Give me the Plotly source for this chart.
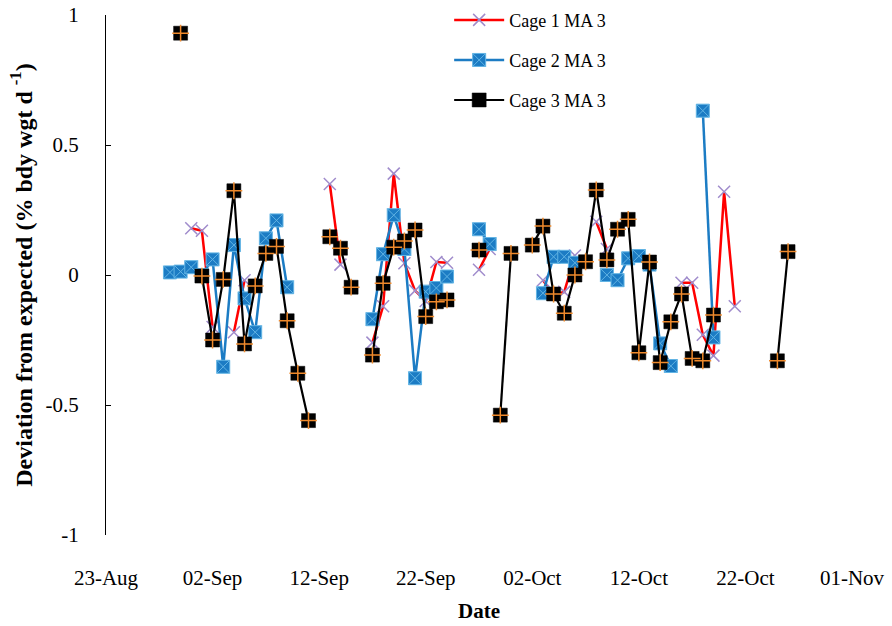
import plotly.graph_objects as go
import pandas as pd

# ---- data ----
dates = pd.date_range("2009-08-29", "2009-10-26", freq="D").strftime("%Y-%m-%d").tolist()

N = None
cage1 = [N, N, 0.18, 0.17, -0.20, N, -0.22, -0.02, N, N, N, N, N, N, N, 0.35, 0.04, N, N,
         -0.26, -0.12, 0.39, 0.045, -0.06, -0.10, 0.05, 0.047, N, N, 0.02, 0.10, N, N,
         N, N, -0.02, -0.075, -0.065, 0.075, N, 0.205, 0.10, N, N, N, N, N, N,
         -0.03, -0.03, -0.23, -0.31, 0.32, -0.12, N, N, N, N, N]
cage2 = [0.01, 0.013, 0.03, 0.0, 0.06, -0.353, 0.115, -0.09, -0.22, 0.141, 0.21, -0.047, N, N, N, N, N, N, N,
         -0.17, 0.08, 0.23, 0.10, -0.397, -0.064, -0.05, -0.006, N, N, 0.176, 0.119, N, N,
         N, N, -0.07, 0.07, 0.07, 0.047, N, N, 0.0, -0.02, 0.064, 0.073, 0.04, -0.263, -0.35,
         N, N, 0.632, -0.24, N, N, N, N, N, N, N]
cage3 = [N, 0.93, N, -0.004, -0.25, -0.017, 0.324, -0.265, -0.042, 0.083, 0.11, -0.176, -0.378, -0.56, N, 0.147, 0.103, -0.047, N,
         -0.308, -0.032, 0.107, 0.131, 0.173, -0.16, -0.103, -0.096, N, N, 0.096, N, -0.539, 0.083,
         N, 0.115, 0.188, -0.073, -0.147, 0.0, 0.051, 0.327, 0.058, 0.176, 0.214, -0.299, 0.05, -0.337, -0.18,
         -0.073, -0.321, -0.33, -0.154, N, N, N, N, N, -0.33, 0.09]

names = ["Cage 1 MA 3", "Cage 2 MA 3", "Cage 3 MA 3"]
y_ticks = [-1, -0.5, 0, 0.5, 1]
y_ticklabels = ["-1", "-0.5", "0", "0.5", "1"]

FONT = "Liberation Serif"

fig = go.Figure()
fig.add_trace(go.Scatter(
    x=dates, y=cage1, name=names[0], mode="lines+markers", connectgaps=False,
    line=dict(color="#ff0000", width=2.5),
    marker=dict(symbol="x-thin", size=12, line=dict(color="#a08ccc", width=1.5)),
    legend="legend"))
fig.add_trace(go.Scatter(
    x=dates, y=cage2, name=names[1], mode="lines+markers", connectgaps=False,
    line=dict(color="#1c7cc4", width=2.5),
    marker=dict(symbol="square-x", size=13, color="#1c7cc4", line=dict(color="#62b4e4", width=1)),
    legend="legend2"))
fig.add_trace(go.Scatter(
    x=dates, y=cage3, name=names[2], mode="lines+markers", connectgaps=False,
    line=dict(color="#000000", width=2.2),
    marker=dict(symbol="square", size=14, color="#000000", line=dict(color="#000000", width=0.5)),
    legend="legend3"))
fig.add_trace(go.Scatter(
    x=dates, y=cage3, name=names[2], mode="markers", showlegend=False, hoverinfo="skip",
    marker=dict(symbol="cross-thin", size=12, line=dict(color="#f08a2c", width=1.5))))

leg_common = dict(xanchor="left", yanchor="middle", bgcolor="rgba(0,0,0,0)",
                  font=dict(family=FONT, size=18, color="#000"), itemwidth=50)
fig.update_layout(
    width=892, height=626,
    margin=dict(l=106, r=40, t=15, b=91, autoexpand=False),
    paper_bgcolor="white", plot_bgcolor="white",
    font=dict(family=FONT, color="#000"),
    legend=dict(x=0.46, y=0.99, **leg_common),
    legend2=dict(x=0.46, y=0.913, **leg_common),
    legend3=dict(x=0.46, y=0.836, **leg_common),
    xaxis=dict(
        type="date", range=["2009-08-23", "2009-11-01"],
        tick0="2009-08-23", dtick=864000000, tickformat="%d-%b",
        showgrid=False, zeroline=False, showline=False, ticks="",
        ticklabelstandoff=28, tickfont=dict(family=FONT, size=21),
        title=dict(text="<b>Date</b>", font=dict(family=FONT, size=21), standoff=14),
    ),
    xaxis2=dict(
        type="date", overlaying="x", matches="x", anchor="free", position=0.5,
        tick0="2009-08-23", dtick=864000000,
        showgrid=False, zeroline=False, showline=True, linecolor="#000", linewidth=1.2,
        ticks="inside", ticklen=5, tickcolor="#000", showticklabels=False,
    ),
    yaxis=dict(
        range=[-1, 1], tickvals=y_ticks, ticktext=y_ticklabels,
        showgrid=False, zeroline=False, showline=True, linecolor="#000", linewidth=1.2,
        ticks="inside", ticklen=5, tickcolor="#000",
        ticklabelstandoff=22, tickfont=dict(family=FONT, size=21),
        title=dict(text="<b>Deviation from expected (% bdy wgt d <sup>-1</sup>)</b>",
                   font=dict(family=FONT, size=24), standoff=6),
    ),
)

fig.write_html("out.html")
